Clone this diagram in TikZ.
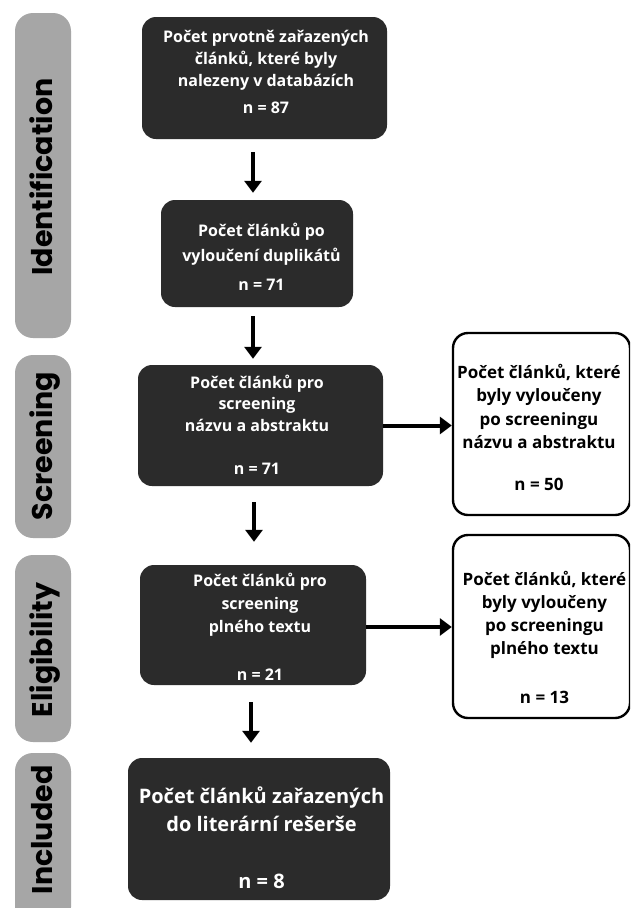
\documentclass[tikz,border=0pt]{standalone}
\usepackage{fontspec}
\setmainfont{Open Sans}
\newfontfamily\sidefont{Poppins}
\usetikzlibrary{arrows.meta,calc}
\definecolor{boxdark}{HTML}{2B2B2B}
\definecolor{bargrey}{HTML}{A6A6A6}
\begin{document}
\begin{tikzpicture}[x=1pt,y=-1pt,
  darkbox/.style={fill=boxdark, rounded corners=14pt, inner sep=0pt},
  whitebox/.style={draw=black, line width=2.4pt, fill=white, rounded corners=15pt, inner sep=0pt},
  sidebar/.style={fill=bargrey, rounded corners=18pt, inner sep=0pt},
  sidelabel/.style={font=\sidefont\bfseries\fontsize{28.5}{28.5}\selectfont, rotate=90, text=black, inner sep=0pt, anchor=base},
  wtext/.style={text=white, align=center, inner sep=0pt},
  btext/.style={text=black, align=center, inner sep=0pt},
  arr/.style={line width=4pt, -{Triangle[width=17pt,length=12pt]}}
]
\useasboundingbox (0,0) rectangle (630,908);
\clip (0,0) rectangle (630,908);
\fill[white] (0,0) rectangle (630,908);

% side bars
\node[sidebar, minimum width=56pt, minimum height=325pt] (s1) at (43,175.5) {};
\node[sidebar, minimum width=56pt, minimum height=183pt] (s2) at (43,446.5) {};
\node[sidebar, minimum width=56pt, minimum height=187pt] (s3) at (43,648.5) {};
\node[sidebar, minimum width=56pt, minimum height=172pt] (s4) at (43,839) {};
\node[sidelabel] (l1) at (52,177) {Identification};
\node[sidelabel] (l2) at (52,446) {Screening};
\node[sidelabel] (l3) at (52,650) {Eligibility};
\node[sidelabel] (l4) at (52,830) {Included};

% dark boxes
\node[darkbox, minimum width=245pt, minimum height=122pt] (b1) at (264.5,78) {};
\node[darkbox, minimum width=192pt, minimum height=107pt] (b2) at (257,253.5) {};
\node[darkbox, minimum width=245pt, minimum height=121pt] (b3) at (260.5,425.5) {};
\node[darkbox, minimum width=226pt, minimum height=120pt] (b4) at (253,625) {};
\node[darkbox, minimum width=262pt, minimum height=142pt] (b5) at (259,829) {};

% white boxes
\node[whitebox, minimum width=177pt, minimum height=182pt] (r1) at (541.5,424) {};
\node[whitebox, minimum width=177pt, minimum height=183pt] (r2) at (541.5,626.5) {};

% texts
\node[wtext, font=\bfseries\fontsize{16}{22}\selectfont] (t1) at (266,71.9)
  {Počet prvotně zařazených\\článků, které byly\\nalezeny v databázích\\[5pt]n = 87};
\node[wtext, font=\bfseries\fontsize{16}{25}\selectfont] (t2) at (261.5,256.4)
  {Počet článků po\\vyloučení duplikátů\\[4pt]n = 71};
\node[wtext, font=\bfseries\fontsize{16}{21.5}\selectfont] (t3) at (257,424.9)
  {Počet článků pro\\screening\\názvu a abstraktu\\[22pt]n = 71};
\node[wtext, font=\bfseries\fontsize{16}{23}\selectfont] (t4) at (260,626.4)
  {Počet článků pro\\screening\\plného textu\\[25pt]n = 21};
\node[wtext, font=\bfseries\fontsize{20}{28}\selectfont] (t5) at (261.5,837.4)
  {Počet článků zařazených\\do literární rešerše\\[29pt]n = 8};
\node[btext, font=\bfseries\fontsize{17}{23.5}\selectfont] (t6) at (539,427.5)
  {Počet článků, které\\byly vyloučeny\\po screeningu\\názvu a abstraktu\\[18.5pt]n = 50};
\node[btext, font=\bfseries\fontsize{17}{23}\selectfont] (t7) at (544.5,637)
  {Počet článků, které\\byly vyloučeny\\po screeningu\\plného textu\\[26pt]n = 13};

% arrows
\draw[arr] ([xshift=-11.5pt,yshift=-13pt]b1.south) -- ([xshift=-11.5pt,yshift=7pt]b1.south |- b2.north);
\draw[arr] ([xshift=-4pt,yshift=-9pt]b2.south) -- ([xshift=-4pt,yshift=6pt]b2.south |- b3.north);
\draw[arr] ([xshift=-6.5pt,yshift=-16pt]b3.south) -- ([xshift=-6.5pt,yshift=23pt]b3.south |- b4.north);
\draw[arr] ([xshift=-2pt,yshift=-17pt]b4.south) -- ([xshift=-2pt,yshift=15pt]b4.south |- b5.north);
\draw[arr] (b3.east) -- (b3.east -| r1.west);
\draw[arr] ([yshift=-2pt]b4.east) -- ([yshift=-2pt]b4.east -| r2.west);
\end{tikzpicture}
\end{document}
